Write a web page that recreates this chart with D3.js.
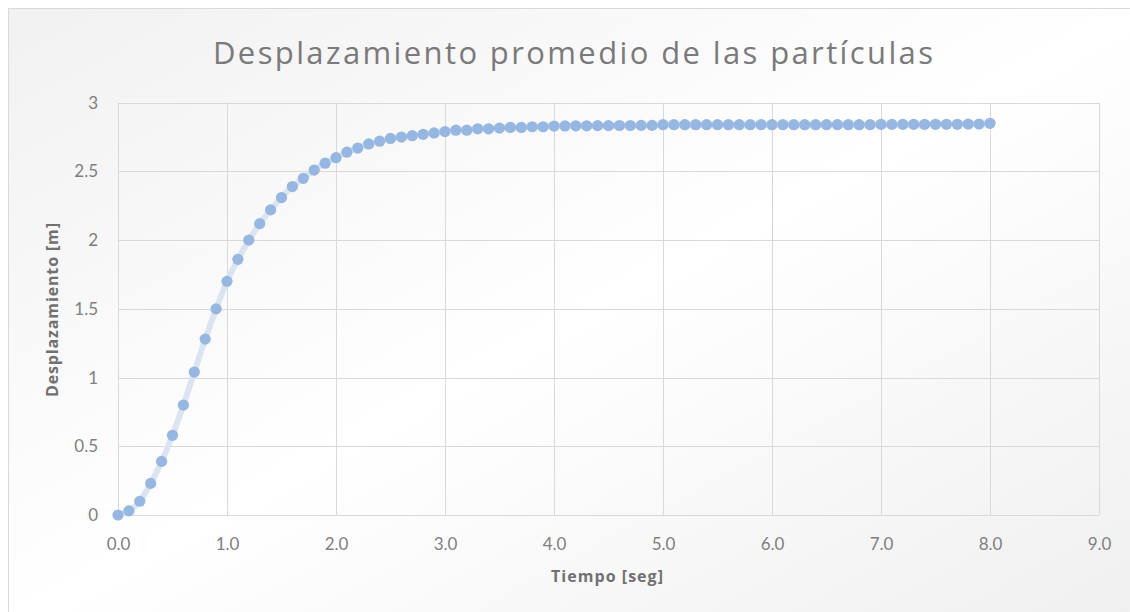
<!DOCTYPE html>
<html>
<head>
<meta charset="utf-8">
<script src="https://cdn.jsdelivr.net/npm/d3@7"></script>
<style>
  html, body { margin: 0; padding: 0; background: #ffffff; }
  svg { display: block; }
</style>
</head>
<body>
<svg id="chart" width="1130" height="612"></svg>
<script>
// ---- Data ----
const chartTitle = "Desplazamiento promedio de las partículas";
const xTitle = "Tiempo [seg]";
const yTitle = "Desplazamiento [m]";
const tiempo = [
  0.0,0.1,0.2,0.3,0.4,0.5,0.6,0.7,0.8,0.9,
  1.0,1.1,1.2,1.3,1.4,1.5,1.6,1.7,1.8,1.9,
  2.0,2.1,2.2,2.3,2.4,2.5,2.6,2.7,2.8,2.9,
  3.0,3.1,3.2,3.3,3.4,3.5,3.6,3.7,3.8,3.9,
  4.0,4.1,4.2,4.3,4.4,4.5,4.6,4.7,4.8,4.9,
  5.0,5.1,5.2,5.3,5.4,5.5,5.6,5.7,5.8,5.9,
  6.0,6.1,6.2,6.3,6.4,6.5,6.6,6.7,6.8,6.9,
  7.0,7.1,7.2,7.3,7.4,7.5,7.6,7.7,7.8,7.9,
  8.0
];
const desplazamiento = [
  0.00,0.03,0.10,0.23,0.39,0.58,0.80,1.04,1.28,1.50,
  1.70,1.86,2.00,2.12,2.22,2.31,2.39,2.45,2.51,2.56,
  2.60,2.64,2.67,2.70,2.72,2.74,2.75,2.76,2.77,2.78,
  2.79,2.80,2.80,2.81,2.81,2.815,2.82,2.82,2.825,2.825,
  2.830,2.831,2.832,2.832,2.833,2.833,2.834,2.834,2.835,2.835,
  2.840,2.840,2.840,2.840,2.840,2.840,2.840,2.840,2.840,2.840,
  2.840,2.840,2.840,2.840,2.840,2.840,2.840,2.840,2.840,2.840,
  2.842,2.842,2.842,2.842,2.842,2.843,2.843,2.843,2.844,2.845,
  2.850
];
const xTicks = [0,1,2,3,4,5,6,7,8,9];
const yTicks = [0,0.5,1,1.5,2,2.5,3];

// ---- Layout ----
const svg = d3.select("#chart");
const plot = { left: 118, right: 1099, top: 102.7, bottom: 515 };

const defs = svg.append("defs");
const grad = defs.append("linearGradient")
  .attr("id", "bg").attr("x1", "0%").attr("y1", "0%").attr("x2", "100%").attr("y2", "100%");
grad.append("stop").attr("offset", "0%").attr("stop-color", "#f1f1f1");
grad.append("stop").attr("offset", "50%").attr("stop-color", "#ffffff");
grad.append("stop").attr("offset", "100%").attr("stop-color", "#efefef");

svg.append("rect")
  .attr("x", 8.5).attr("y", 8.5).attr("width", 1140).attr("height", 620)
  .attr("fill", "url(#bg)").attr("stroke", "#d9d9d9").attr("stroke-width", 1);

const x = d3.scaleLinear().domain([0, 9]).range([plot.left, plot.right]);
const y = d3.scaleLinear().domain([0, 3]).range([plot.bottom, plot.top]);

// gridlines
const grid = svg.append("g");
grid.selectAll("line.h").data(yTicks).join("line")
  .attr("x1", plot.left).attr("x2", plot.right)
  .attr("y1", d => Math.round(y(d)) + 0.5).attr("y2", d => Math.round(y(d)) + 0.5)
  .attr("stroke", "#d9d9d9").attr("stroke-width", 1);
grid.selectAll("line.v").data(xTicks).join("line")
  .attr("y1", plot.top).attr("y2", plot.bottom)
  .attr("x1", d => Math.round(x(d)) + 0.5).attr("x2", d => Math.round(x(d)) + 0.5)
  .attr("stroke", "#d9d9d9").attr("stroke-width", 1);

const tickFont = "Lato, 'Open Sans', sans-serif";
const xAxis = svg.append("g")
  .attr("transform", `translate(0,${plot.bottom})`)
  .call(d3.axisBottom(x).tickValues(xTicks).tickFormat(d3.format(".1f")).tickSize(0).tickPadding(23));
xAxis.select(".domain").remove();
xAxis.selectAll("text")
  .attr("font-family", tickFont).attr("font-size", 17).attr("fill", "#7f7f7f");

const yAxis = svg.append("g")
  .attr("transform", `translate(${plot.left},0)`)
  .call(d3.axisLeft(y).tickValues(yTicks).tickFormat(d => d3.format("")(d)).tickSize(0).tickPadding(20));
yAxis.select(".domain").remove();
yAxis.selectAll("text")
  .attr("font-family", tickFont).attr("font-size", 17).attr("fill", "#7f7f7f");

// data
const pts = tiempo.map((t, i) => ({ t, v: desplazamiento[i] }));
const line = d3.line().x(d => x(d.t)).y(d => y(d.v)).curve(d3.curveMonotoneX);
svg.append("path").datum(pts)
  .attr("d", line).attr("fill", "none")
  .attr("stroke", "#dbe5f2").attr("stroke-width", 6)
  .attr("stroke-linejoin", "round").attr("stroke-linecap", "round");

svg.append("g").selectAll("circle").data(pts).join("circle")
  .attr("cx", d => x(d.t)).attr("cy", d => y(d.v)).attr("r", 5.6)
  .attr("fill", "#95b7e1");

// title
svg.append("text")
  .attr("x", 573).attr("y", 64)
  .attr("text-anchor", "middle")
  .attr("font-family", "'Open Sans', Lato, sans-serif").attr("font-weight", 400)
  .attr("font-size", 31).attr("fill", "#7a7a7a")
  .attr("textLength", 720).attr("lengthAdjust", "spacing")
  .text(chartTitle);

// axis titles
svg.append("text")
  .attr("x", 607).attr("y", 582)
  .attr("text-anchor", "middle")
  .attr("font-family", "'Open Sans', Lato, sans-serif").attr("font-weight", 700)
  .attr("font-size", 16).attr("fill", "#707070")
  .attr("textLength", 112).attr("lengthAdjust", "spacing")
  .text(xTitle);

svg.append("text")
  .attr("transform", "translate(58,310) rotate(-90)")
  .attr("text-anchor", "middle")
  .attr("font-family", "'Open Sans', Lato, sans-serif").attr("font-weight", 700)
  .attr("font-size", 16).attr("fill", "#707070")
  .attr("textLength", 174).attr("lengthAdjust", "spacing")
  .text(yTitle);
</script>
</body>
</html>
